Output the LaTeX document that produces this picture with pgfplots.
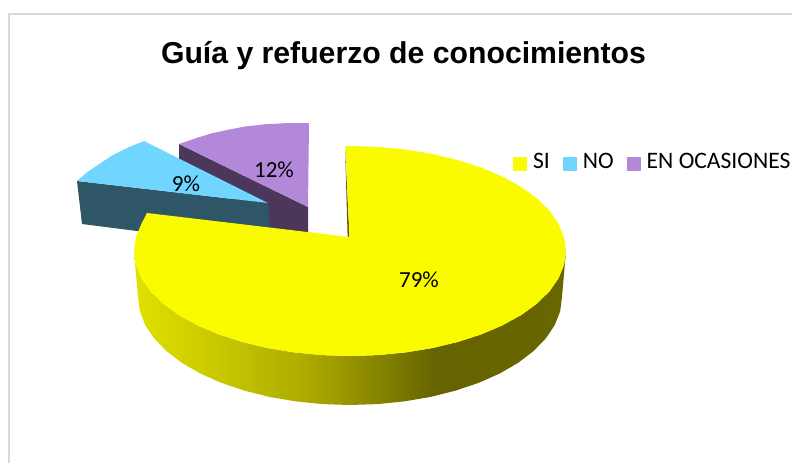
\documentclass[border=0pt]{standalone}
\usepackage{fontspec}
\setmainfont{Carlito}
\newfontfamily\titlefont{Liberation Sans}
\usepackage{pgfplots}
\pgfplotsset{compat=1.18}

\definecolor{siyellow}{RGB}{251,251,0}
\definecolor{sidark}{RGB}{100,98,0}
\definecolor{noblue}{RGB}{113,214,255}
\definecolor{nodark}{RGB}{46,86,102}
\definecolor{enpurple}{RGB}{180,136,217}
\definecolor{endark}{RGB}{75,55,90}
\definecolor{frame}{RGB}{217,217,217}

% side of the big slice: light on the left, dark from about x=440
\pgfdeclarehorizontalshading{yellowside}{100bp}{
  rgb(0bp)=(0.88,0.88,0);
  rgb(25bp)=(0.88,0.88,0);
  rgb(33bp)=(0.80,0.80,0);
  rgb(45bp)=(0.68,0.67,0);
  rgb(60bp)=(0.40,0.39,0);
  rgb(75bp)=(0.41,0.40,0);
  rgb(100bp)=(0.41,0.40,0)}

\begin{document}
\begin{tikzpicture}
\useasboundingbox (0,0) rectangle (792pt,463pt);
\begin{axis}[
    at={(0,0)}, anchor=south west,
    scale only axis, width=792pt, height=463pt,
    xmin=0, xmax=792, ymin=0, ymax=463, y dir=reverse,
    hide axis, clip=false,
    legend image code/.code={\path[#1] (0pt,-9pt) rectangle (14pt,5pt);},
    legend style={at={(axis cs:513,162)}, anchor=west, draw=none, fill=none,
        legend columns=3, inner sep=0pt, outer sep=0pt,
        font=\fontsize{23.6}{25}\selectfont,
        /tikz/every odd column/.append style={column sep=4pt},
        /tikz/every even column/.append style={column sep=11pt}},
    legend cell align=left]

\addlegendimage{fill=siyellow, draw=none}
\addlegendentry{SI}
\addlegendimage{fill=noblue, draw=none}
\addlegendentry{NO}
\addlegendimage{fill=enpurple, draw=none}
\addlegendentry{EN OCASIONES}

% frame
\addplot[forget plot, frame, line width=2pt] coordinates {(9,463) (9,14) (792,14)};

% EN OCASIONES 12%
\addplot[forget plot, fill=endark, draw=none] coordinates {(179,144) (308,207) (308,233) (269,228) (179,159)} --cycle;
\addplot[forget plot, fill=enpurple, draw=none] coordinates {(179,144) (195,138.5) (211,133.5) (227,130) (245,126.5) (265,124.3) (285,123.2) (309,123) (308,207)} --cycle;

% NO 9%
\addplot[forget plot, fill=nodark, draw=none] coordinates {(77,181) (268,203) (270,230) (137,231) (82,224)} --cycle;
\addplot[forget plot, fill=noblue, draw=none] coordinates {(144,141) (128,147.5) (113,155) (100,163.5) (88,171.5) (77,181) (268,203)} --cycle;

% SI 79%
\addplot[forget plot, fill=sidark, draw=none] coordinates {(345,146) (347.6,237) (349.5,237)} --cycle;
\addplot[forget plot, shading=yellowside, draw=none] coordinates {
    (134,251) (135.9,264.7) (141.4,278.2) (150.4,291.2) (162.9,303.5) (178.6,314.9)
    (197.3,325.2) (218.5,334.3) (242,341.9) (267.3,348) (294.1,352.4) (321.8,355.1)
    (350,356) (378.2,355.1) (405.9,352.4) (432.7,348) (458,341.9) (481.5,334.3)
    (502.7,325.2) (521.4,314.9) (537.1,303.5) (549.6,291.2) (558.6,278.2) (564.1,264.7)
    (566,251) (562,297) (560.2,311.1) (554.8,325) (545.9,338.3) (533.6,351) (518.2,362.8)
    (499.9,373.4) (479.1,382.7) (456,390.5) (431.1,396.8) (404.9,401.3) (377.7,404.1)
    (350,405) (322.3,404.1) (295.1,401.3) (268.9,396.8) (244,390.5) (220.9,382.7)
    (200.1,373.4) (181.8,362.8) (166.4,351) (154.1,338.3) (145.2,325) (139.8,311.1)
    (138,297)} --cycle;
\addplot[forget plot, fill=siyellow, draw=none] coordinates {
    (345.5,146) (350,146) (378.2,146.9) (405.9,149.6) (432.7,154) (458,160.1) (481.5,167.7)
    (502.7,176.8) (521.4,187.1) (537.1,198.5) (549.6,210.8) (558.6,223.8) (564.1,237.3)
    (566,251) (564.1,264.7) (558.6,278.2) (549.6,291.2) (537.1,303.5) (521.4,314.9)
    (502.7,325.2) (481.5,334.3) (458,341.9) (432.7,348) (405.9,352.4) (378.2,355.1)
    (350,356) (321.8,355.1) (294.1,352.4) (267.3,348) (242,341.9) (218.5,334.3)
    (197.3,325.2) (178.6,314.9) (162.9,303.5) (150.4,291.2) (141.4,278.2) (135.9,264.7)
    (134,251) (135.9,237.3) (141.4,223.8) (147,213) (349.5,237)} --cycle;

% labels
\node[font=\fontsize{23}{25}\selectfont] at (axis cs:274,170) {12\%};
\node[font=\fontsize{23}{25}\selectfont] at (axis cs:186,184) {9\%};
\node[font=\fontsize{23}{25}\selectfont] at (axis cs:419,280) {79\%};
\node[font=\titlefont\bfseries\fontsize{30.2}{33}\selectfont] at (axis cs:403.5,55.5) {Guía y refuerzo de conocimientos};
\end{axis}
\end{tikzpicture}
\end{document}
